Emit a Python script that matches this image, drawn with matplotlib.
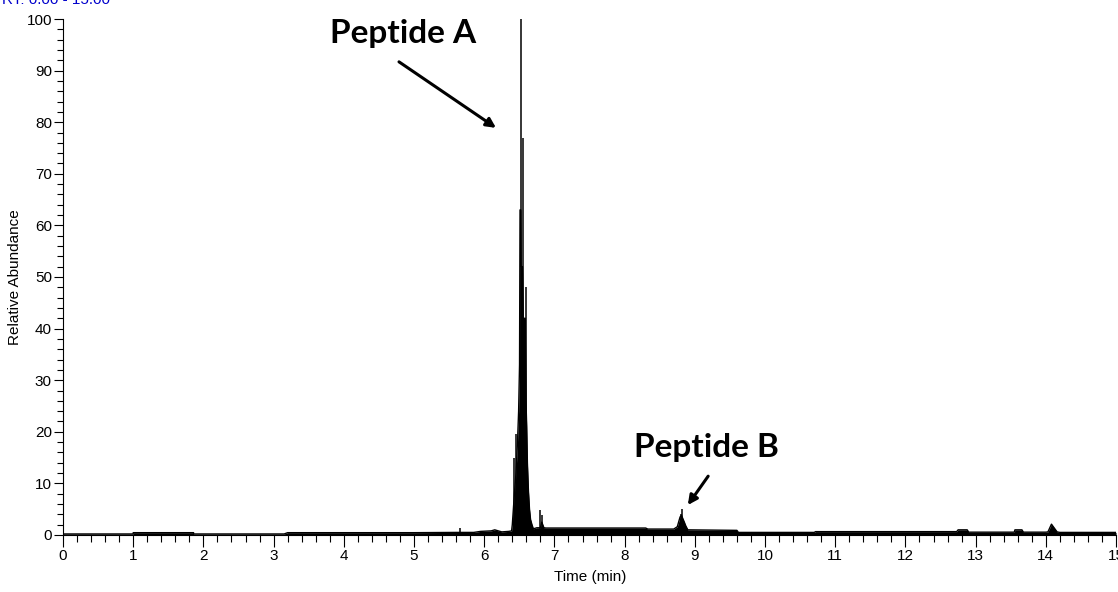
import matplotlib.pyplot as plt
from matplotlib.ticker import MultipleLocator

# chromatogram envelope (time in min, relative abundance)
t = [0.0, 1.0, 1.0, 1.86, 1.86, 3.15, 3.2, 4.0, 5.0, 5.6, 5.85, 5.95, 6.1, 6.15, 6.2,
     6.25, 6.35, 6.39, 6.40, 6.415, 6.43, 6.453, 6.474, 6.49, 6.503, 6.51, 6.52,
     6.525, 6.545, 6.555, 6.585, 6.595, 6.605, 6.615, 6.63, 6.645, 6.66, 6.68, 6.7,
     6.75, 6.8, 6.82, 6.85, 6.88, 7.5, 8.3, 8.33, 8.7, 8.75, 8.79, 8.81, 8.85, 8.87,
     8.9, 9.6, 9.62, 10.7, 10.72, 12.73, 12.75, 12.88, 12.9, 13.55, 13.56, 13.66,
     13.68, 14.0, 14.03, 14.08, 14.16, 14.2, 15.0]
y = [0.2, 0.2, 0.45, 0.45, 0.2, 0.2, 0.45, 0.45, 0.45, 0.5, 0.5, 0.7, 0.8, 1.0, 0.8,
     0.6, 0.7, 0.8, 2.0, 5.0, 8.0, 12.0, 18.0, 24.0, 33.0, 63.0, 63.0,
     52.0, 52.0, 42.0, 42.0, 26.0, 21.0, 14.0, 8.5, 5.0, 3.0, 2.0, 1.2,
     1.4, 1.4, 2.5, 1.4, 1.35, 1.35, 1.35, 1.15, 1.15, 1.6, 3.5, 3.8, 2.5, 1.8,
     1.0, 0.9, 0.5, 0.5, 0.65, 0.65, 1.0, 1.0, 0.55, 0.55, 1.0, 1.0,
     0.55, 0.55, 0.6, 2.1, 0.6, 0.5, 0.5]

# single scans sticking out of the envelope
stick_t = [6.43, 6.453, 6.529, 6.557, 6.59, 6.79, 6.83, 8.80, 8.82, 5.65]
stick_h = [15.0, 19.5, 100.0, 77.0, 48.0, 4.8, 3.9, 4.0, 5.0, 1.3]

labels = ["Peptide A", "Peptide B"]

plt.rcParams['font.family'] = ['Liberation Sans', 'DejaVu Sans']

fig = plt.figure(figsize=(11.18, 5.92), dpi=100)
ax = fig.add_axes([0.05635, 0.0963, 0.9419, 0.8716])

# hollow plateau between 1.0 and 1.86 min is drawn as outline only
mask = [not (1.0 < a < 1.86) for a in t]
ax.fill_between(t, y, 0, where=mask, color='black', lw=0)
ax.plot(t, y, color='black', lw=1.0)
ax.vlines(stick_t, 0, stick_h, color='black', lw=1.1)

ax.set_xlim(0, 15)
ax.set_ylim(0, 100)
ax.xaxis.set_major_locator(MultipleLocator(1))
ax.xaxis.set_minor_locator(MultipleLocator(0.2))
ax.yaxis.set_major_locator(MultipleLocator(10))
ax.yaxis.set_minor_locator(MultipleLocator(2))
for s in ['top', 'right']:
    ax.spines[s].set_visible(False)
for s in ['left', 'bottom']:
    ax.spines[s].set_linewidth(0.8)
ax.tick_params(axis='x', which='major', length=8.5, width=0.8, pad=1.5, labelsize=11)
ax.tick_params(axis='x', which='minor', length=5, width=0.8)
ax.tick_params(axis='y', which='major', length=6.5, width=0.8, pad=1.5, labelsize=11)
ax.tick_params(axis='y', which='minor', length=4, width=0.8)

ax.set_xlabel("Time (min)", fontsize=11)
ax.set_ylabel("Relative Abundance", fontsize=11)
ax.xaxis.set_label_coords(0.5005, -0.068)
ax.yaxis.set_label_coords(-0.039, 0.5)

# annotations
ax.text(4.84, 97.1, labels[0], ha='center', va='center', fontsize=24,
        fontweight='bold', family=['Lato', 'DejaVu Sans'])
ax.annotate("", xy=(6.168, 78.9), xytext=(4.786, 91.7),
            arrowprops=dict(arrowstyle='-|>', color='black', lw=2.2, mutation_scale=14,
                            shrinkA=0, shrinkB=0))
ax.text(9.16, 17.0, labels[1], ha='center', va='center', fontsize=24,
        fontweight='bold', family=['Lato', 'DejaVu Sans'])
ax.annotate("", xy=(8.90, 5.8), xytext=(9.19, 11.4),
            arrowprops=dict(arrowstyle='-|>', color='black', lw=2.2, mutation_scale=14,
                            shrinkA=0, shrinkB=0))

# clipped header of the original export
fig.text(2 / 1118, 1 - 4 / 592, "RT: 0.00 - 15.00", color='#0000cc', fontsize=11,
         va='baseline', ha='left')

fig.savefig("out.png", dpi=100)
